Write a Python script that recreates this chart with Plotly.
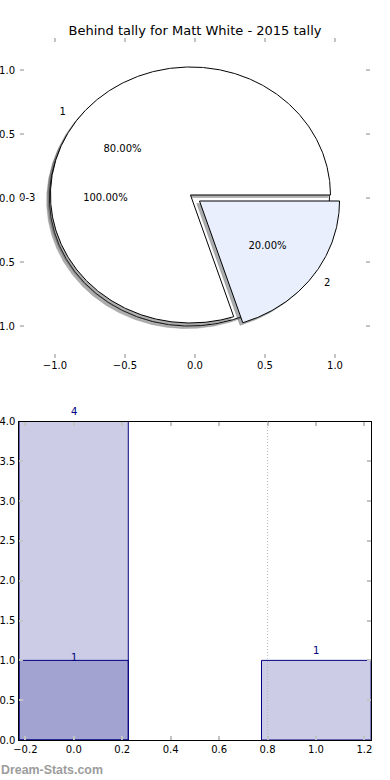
import numpy as np
import plotly.graph_objects as go

# ---------------- data ----------------
title_text = "Behind tally for Matt White - 2015 tally"

outer_labels = ["0-3"]
outer_values = [5]
outer_colors = ["#ffffff"]

inner_labels = ["1", "2"]
inner_values = [4, 1]
inner_colors = ["#ffffff", "#e9effc"]

bar_x = [0, 1]
bar_totals = [4, 1]
bar_sub_x = [0]
bar_sub = [1]
ref_line_x = 0.8

pie_ticks = [-1.0, -0.5, 0.0, 0.5, 1.0]

# ---------------- styles ----------------
FONT = "DejaVu Sans"
EXPLODE = 0.04
SHADOW = (-0.02, -0.02)
TICKC = "#c4c4c4"


def shadow_color(hexcol):
    h = hexcol.lstrip("#")
    r, g, b = (int(h[i:i + 2], 16) for i in (0, 2, 4))
    return "rgba(%d,%d,%d,0.45)" % (0.3 * r, 0.3 * g, 0.3 * b)


def wedge(cx, cy, t1, t2, r=1.0):
    n = max(int(abs(t2 - t1) * 2), 8)
    t = np.radians(np.linspace(t1, t2, n))
    xs = cx + r * np.cos(t)
    ys = cy + r * np.sin(t)
    if abs(t2 - t1) >= 359.999:
        return list(xs), list(ys)
    return [cx] + list(xs) + [cx], [cy] + list(ys) + [cy]


def pie_geometry(values):
    total = float(sum(values))
    out = []
    start = 0.0
    for v in values:
        span = 360.0 * v / total
        mid = np.radians(start + span / 2)
        cx, cy = EXPLODE * np.cos(mid), EXPLODE * np.sin(mid)
        out.append((start, start + span, mid, cx, cy, 100.0 * v / total))
        start += span
    return out


fig = go.Figure()

texts = []  # (x, y, text, position)
for labels, values, colors in [(outer_labels, outer_values, outer_colors),
                               (inner_labels, inner_values, inner_colors)]:
    geo = pie_geometry(values)
    for (t1, t2, mid, cx, cy, pct), col in zip(geo, colors):
        xs, ys = wedge(cx + SHADOW[0], cy + SHADOW[1], t1, t2)
        sc = shadow_color(col)
        fig.add_trace(go.Scatter(x=xs, y=ys, mode="lines", fill="toself",
                                 fillcolor=sc, line=dict(color=sc, width=0.5),
                                 hoverinfo="skip", showlegend=False,
                                 xaxis="x", yaxis="y"))
    for (t1, t2, mid, cx, cy, pct), col, lab in zip(geo, colors, labels):
        xs, ys = wedge(cx, cy, t1, t2)
        fig.add_trace(go.Scatter(x=xs, y=ys, mode="lines", fill="toself",
                                 fillcolor=col, line=dict(color="black", width=1),
                                 hoverinfo="skip", showlegend=False,
                                 xaxis="x", yaxis="y"))
        lx, ly = cx + 1.1 * np.cos(mid), cy + 1.1 * np.sin(mid)
        texts.append((lx, ly, lab, "middle right" if lx > 0 else "middle left"))
        px, py = cx + 0.6 * np.cos(mid), cy + 0.6 * np.sin(mid)
        texts.append((px, py, "%.2f%%" % pct, "middle center"))

for pos in ["middle left", "middle right", "middle center"]:
    sel = [t for t in texts if t[3] == pos]
    fig.add_trace(go.Scatter(x=[t[0] for t in sel], y=[t[1] for t in sel],
                             text=[t[2] for t in sel], mode="text",
                             textposition=pos,
                             textfont=dict(family=FONT, size=10, color="black"),
                             hoverinfo="skip", showlegend=False, cliponaxis=False,
                             xaxis="x", yaxis="y"))

# ---------------- bar chart ----------------
fig.add_trace(go.Bar(x=bar_x, y=bar_totals, width=0.45,
                     marker=dict(color="rgba(0,0,128,0.2)",
                                 line=dict(color="#000080", width=1)),
                     hoverinfo="skip", showlegend=False,
                     xaxis="x2", yaxis="y2"))
fig.add_trace(go.Bar(x=bar_sub_x, y=bar_sub, width=0.45,
                     marker=dict(color="rgba(0,0,128,0.2)",
                                 line=dict(color="#000080", width=1)),
                     hoverinfo="skip", showlegend=False,
                     xaxis="x2", yaxis="y2"))

annotations = []
for x, y in zip(bar_x, bar_totals):
    annotations.append(dict(x=x, y=y, xref="x2", yref="y2", text=str(y),
                            showarrow=False, yanchor="middle", yshift=10,
                            font=dict(family=FONT, size=10, color="#000080")))
for x, y in zip(bar_sub_x, bar_sub):
    annotations.append(dict(x=x, y=y, xref="x2", yref="y2", text=str(y),
                            showarrow=False, yanchor="middle", yshift=3,
                            font=dict(family=FONT, size=10, color="#000080")))
annotations.append(dict(x=-1 / 390, y=1 - 770 / 780, xref="paper", yref="paper",
                        xanchor="left", yanchor="middle", showarrow=False,
                        text="<b>Dream-Stats.com</b>",
                        font=dict(family="Liberation Sans", size=12.4,
                                  color="#9c9c9c")))

fig.add_shape(type="line", x0=ref_line_x, x1=ref_line_x, y0=0, y1=1,
              xref="x2", yref="y2 domain",
              line=dict(color="#b8b8b8", width=1, dash="1px,2px"))

tickfont = dict(family=FONT, size=10, color="black")
common = dict(showgrid=False, zeroline=False, ticks="inside", ticklen=4,
              tickwidth=2, tickcolor=TICKC, tickfont=tickfont,
              tickformat=".1f", automargin=False)

fig.update_layout(
    width=390, height=780, autosize=False,
    margin=dict(l=0, r=0, t=0, b=0),
    paper_bgcolor="white", plot_bgcolor="white",
    barmode="overlay", bargap=0,
    title=dict(text=title_text, x=195 / 390, xanchor="center",
               y=1 - 30 / 780, yanchor="middle", automargin=False,
               font=dict(family=FONT, size=13, color="black")),
    xaxis=dict(domain=[20 / 390, 370 / 390], range=[-1.25, 1.25],
               tickvals=pie_ticks, showline=False, mirror="ticks",
               anchor="y", **common),
    yaxis=dict(domain=[1 - 358 / 780, 1 - 38 / 780], range=[-1.25, 1.25],
               tickvals=pie_ticks, showline=False, mirror="ticks",
               ticklabelstandoff=4, anchor="x", **common),
    xaxis2=dict(domain=[19.3 / 390, 370.5 / 390], range=[-0.225, 1.225],
                dtick=0.2, tick0=0, showline=True, linecolor="black",
                linewidth=1, mirror="ticks", anchor="y2", **common),
    yaxis2=dict(domain=[1 - 740 / 780, 1 - 421.5 / 780], range=[0, 4],
                dtick=0.5, tick0=0, showline=True, linecolor="black",
                linewidth=1, mirror="ticks", ticklabelstandoff=1,
                anchor="x2", **common),
    annotations=annotations,
)

fig.write_html("out.html",
               config={"displayModeBar": False, "staticPlot": True},
               post_script="document.body.style.margin='0';"
                           "document.body.style.overflow='hidden';")
